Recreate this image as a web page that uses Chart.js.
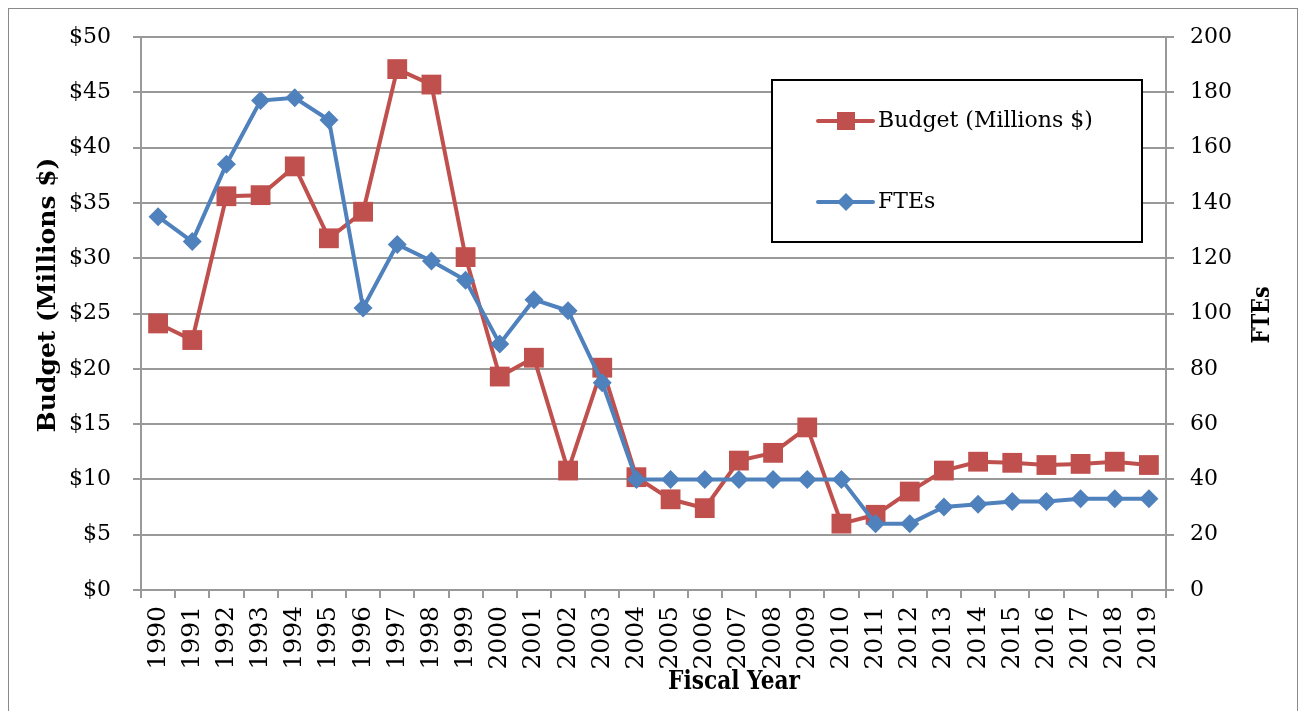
<!DOCTYPE html>
<html>
<head>
<meta charset="utf-8">
<title>Budget and FTEs by Fiscal Year</title>
<script src="https://cdn.jsdelivr.net/npm/chart.js@4.4.1/dist/chart.umd.min.js"></script>
<style>
  html, body { margin: 0; padding: 0; background: #fff; }
  canvas { display: block; }
</style>
</head>
<body>
<canvas id="chart" width="1299" height="711"></canvas>
<script>
// Data
const years = ['1990', '1991', '1992', '1993', '1994', '1995', '1996', '1997', '1998', '1999',
  '2000', '2001', '2002', '2003', '2004', '2005', '2006', '2007', '2008', '2009',
  '2010', '2011', '2012', '2013', '2014', '2015', '2016', '2017', '2018', '2019'];
const budget = [24.1, 22.6, 35.6, 35.7, 38.3, 31.8, 34.2, 47.1, 45.7, 30.1,
  19.3, 21.0, 10.8, 20.1, 10.2, 8.2, 7.4, 11.7, 12.4, 14.7,
  6.0, 6.8, 8.9, 10.8, 11.6, 11.5, 11.3, 11.4, 11.6, 11.3];
const ftes = [135, 126, 154, 177, 178, 170, 102, 125, 119, 112,
  89, 105, 101, 75, 40, 40, 40, 40, 40, 40,
  40, 24, 24, 30, 31, 32, 32, 33, 33, 33];
const budgetRange = [0, 50, 5];   // min, max, step
const fteRange = [0, 200, 20];

const serif = "'DejaVu Serif', serif";
const red = '#C0504D', blue = '#4F81BD', gray = '#999';
Chart.defaults.font.family = serif;
Chart.defaults.color = '#000';

// white page + thin outer frame
const frame = {
  id: 'frame',
  beforeDraw(chart) {
    const ctx = chart.ctx;
    ctx.save();
    ctx.fillStyle = '#fff';
    ctx.fillRect(0, 0, chart.width, chart.height);
    ctx.strokeStyle = '#8a8a8a';
    ctx.lineWidth = 1;
    ctx.strokeRect(8.5, 8.5, chart.width - 10, chart.height + 20);
    ctx.restore();
  }
};

// bold, slightly condensed axis title (the original uses a narrow bold face)
function axisTitle(ctx, text, x, y, size, width, rotate) {
  ctx.save();
  ctx.font = 'bold ' + size + 'px ' + serif;
  ctx.textAlign = 'center';
  ctx.textBaseline = 'middle';
  ctx.fillStyle = '#000';
  ctx.translate(x, y);
  if (rotate) ctx.rotate(-Math.PI / 2);
  const sx = Math.min(1, width / ctx.measureText(text).width);
  ctx.scale(sx, 1);
  ctx.fillText(text, 0, 0);
  ctx.restore();
}

// boxed legend inside the plot, plus the axis titles
const boxLegend = {
  id: 'boxLegend',
  afterDraw(chart) {
    const ctx = chart.ctx, area = chart.chartArea;
    const bx = area.left + 631, by = area.top + 43, bw = 370, bh = 162;
    ctx.save();
    ctx.fillStyle = '#fff';
    ctx.fillRect(bx, by, bw, bh);
    ctx.strokeStyle = '#000';
    ctx.lineWidth = 2;
    ctx.strokeRect(bx, by, bw, bh);
    ctx.font = '22px ' + serif;
    ctx.textBaseline = 'middle';
    ctx.textAlign = 'left';
    chart.data.datasets.forEach((ds, i) => {
      const y = by + 41 + i * 81;
      const mx = bx + 74;
      ctx.strokeStyle = ds.borderColor;
      ctx.lineWidth = 4;
      ctx.lineCap = 'round';
      ctx.beginPath();
      ctx.moveTo(bx + 46, y);
      ctx.lineTo(bx + 101, y);
      ctx.stroke();
      ctx.fillStyle = ds.borderColor;
      if (ds.pointStyle === 'rect') {
        ctx.fillRect(mx - 9, y - 9, 18, 18);
      } else {
        ctx.beginPath();
        ctx.moveTo(mx - 9, y); ctx.lineTo(mx, y - 9);
        ctx.lineTo(mx + 9, y); ctx.lineTo(mx, y + 9);
        ctx.closePath();
        ctx.fill();
      }
      ctx.fillStyle = '#000';
      ctx.fillText(ds.label, bx + 106, y);
    });
    ctx.restore();

    axisTitle(ctx, 'Budget (Millions $)', 48, 295, 25, 276, true);
    axisTitle(ctx, 'FTEs', 1262, 315, 25, 57, true);
    axisTitle(ctx, 'Fiscal Year', 734, 682, 26, 132, false);
  }
};

new Chart(document.getElementById('chart'), {
  type: 'line',
  data: {
    labels: years,
    datasets: [
      { label: 'Budget (Millions $)', data: budget, yAxisID: 'y', order: 1,
        borderColor: red, backgroundColor: red, borderWidth: 4,
        pointStyle: 'rect', pointRadius: 14, pointHoverRadius: 14, pointBorderWidth: 0 },
      { label: 'FTEs', data: ftes, yAxisID: 'y1', order: 0,
        borderColor: blue, backgroundColor: blue, borderWidth: 4,
        pointStyle: 'rectRot', pointRadius: 9.5, pointHoverRadius: 9.5, pointBorderWidth: 0 }
    ]
  },
  options: {
    responsive: false,
    devicePixelRatio: 1,
    animation: false,
    layout: { padding: { left: 34, top: 37, right: 0, bottom: 16 } },
    plugins: { legend: { display: false }, tooltip: { enabled: false } },
    scales: {
      x: {
        offset: true,
        grid: { offset: true, drawOnChartArea: false, color: gray, lineWidth: 2, tickLength: 8 },
        border: { color: gray, width: 2 },
        ticks: { autoSkip: false, minRotation: 90, maxRotation: 90, padding: 8, font: { size: 25 } },
        afterFit(s) { s.height = 105; }
      },
      y: {
        position: 'left',
        min: budgetRange[0], max: budgetRange[1],
        ticks: { stepSize: budgetRange[2], padding: 22, font: { size: 22 }, callback: v => '$' + v },
        grid: { color: gray, lineWidth: 2, tickLength: 8 },
        border: { color: gray, width: 2 },
        afterFit(s) { s.width = 107; }
      },
      y1: {
        position: 'right',
        min: fteRange[0], max: fteRange[1],
        ticks: { stepSize: fteRange[2], padding: 16, font: { size: 22 } },
        grid: { drawOnChartArea: false, color: gray, lineWidth: 2, tickLength: 8 },
        border: { color: gray, width: 2 },
        afterFit(s) { s.width = 133; }
      }
    }
  },
  plugins: [frame, boxLegend]
});
</script>
</body>
</html>
